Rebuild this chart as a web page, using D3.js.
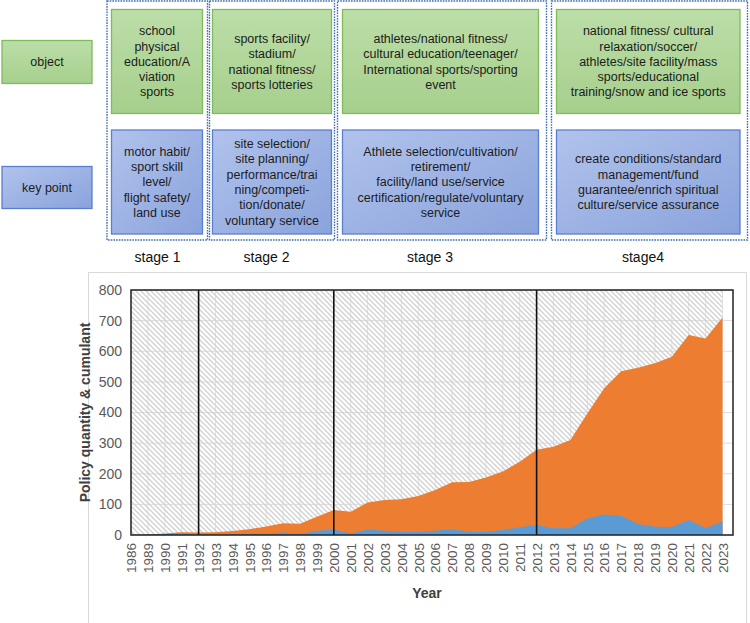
<!DOCTYPE html>
<html>
<head>
<meta charset="utf-8">
<script src="https://cdn.jsdelivr.net/npm/d3@7"></script>
<style>
  html, body { margin: 0; padding: 0; background: #fff; }
  svg { display: block; font-family: Arial, "Liberation Sans", sans-serif; }
</style>
</head>
<body>
<svg id="chart" width="750" height="623"></svg>
<script>
// ---------------- data ----------------
const years = ["1986","1989","1990","1991","1992","1993","1994","1995","1996","1997","1998","1999",
  "2000","2001","2002","2003","2004","2005","2006","2007","2008","2009","2010","2011",
  "2012","2013","2014","2015","2016","2017","2018","2019","2020","2021","2022","2023"];
const cumulant = [1,2,5,9,8, 9,13,19,28,38, 37,60,82,76,106, 114,117,127,147,172,
  173,188,207,239,278, 288,310,397,479,535, 546,561,582,653,642, 710];
const quantity = [1,1,3,4,1, 1,2,4,5,8, 3,14,18,5,18, 14,11,11,14,19,
  11,11,16,25,33, 22,22,54,67,63, 36,27,26,49,22, 44];
const background = years.map(() => 800);
const stageYears = ["1992","2000","2012"];
const yTicks = [0,100,200,300,400,500,600,700,800];

const rowLabels = ["object","key point"];
const stageLabels = ["stage 1","stage 2","stage 3","stage4"];
const objectTexts = [
  ["school","physical","education/A","viation","sports"],
  ["sports facility/","stadium/","national fitness/","sports lotteries"],
  ["athletes/national fitness/","cultural education/teenager/","International sports/sporting","event"],
  ["national fitness/ cultural","relaxation/soccer/","athletes/site facility/mass","sports/educational","training/snow and ice sports"]
];
const keyTexts = [
  ["motor habit/","sport skill","level/","flight safety/","land use"],
  ["site selection/","site planning/","performance/trai","ning/competi-","tion/donate/","voluntary service"],
  ["Athlete selection/cultivation/","retirement/","facility/land use/service","certification/regulate/voluntary","service"],
  ["create conditions/standard","management/fund","guarantee/enrich spiritual","culture/service assurance"]
];

// ---------------- layout ----------------
const svg = d3.select("#chart");
const defs = svg.append("defs");

const gGreen = defs.append("linearGradient").attr("id","gGreen").attr("x1",0).attr("y1",0).attr("x2",0).attr("y2",1);
gGreen.append("stop").attr("offset","0%").attr("stop-color","#bcdea8");
gGreen.append("stop").attr("offset","100%").attr("stop-color","#a6cf8c");
const gBlue = defs.append("linearGradient").attr("id","gBlue").attr("x1",0).attr("y1",0).attr("x2",1).attr("y2",1);
gBlue.append("stop").attr("offset","0%").attr("stop-color","#b1c3ec");
gBlue.append("stop").attr("offset","100%").attr("stop-color","#8aa3dc");

const hatch = defs.append("pattern").attr("id","hatch").attr("patternUnits","userSpaceOnUse")
  .attr("width",5).attr("height",5);
hatch.append("path").attr("d","M-1,-1 L6,6 M-1,4 L1,6 M4,-1 L6,1")
  .attr("stroke","#d2d2d2").attr("stroke-width",1.4).attr("fill","none");

// ---------- top diagram ----------
const stageCols = [
  {x0:107, x1:207.5, ix0:111.5, ix1:202.5},
  {x0:209.5, x1:334.5, ix0:212.5, ix1:331.5},
  {x0:337.5, x1:546.5, ix0:342.5, ix1:538.5},
  {x0:551.5, x1:747.5, ix0:556.5, ix1:740}
];
const greenY = [9.5, 113.5], blueY = [130, 234];
const lineH = 15.3;
const topG = svg.append("g");

function box(x0, y0, x1, y1, kind) {
  topG.append("rect").attr("x",x0).attr("y",y0).attr("width",x1-x0).attr("height",y1-y0)
    .attr("fill", kind === "g" ? "url(#gGreen)" : "url(#gBlue)")
    .attr("stroke", kind === "g" ? "#7fba5c" : "#5a7fcf").attr("stroke-width",1.3);
}
function lines(cx, cy, arr, size) {
  const n = arr.length;
  arr.forEach((t, i) => {
    topG.append("text").attr("x",cx).attr("y", cy + (i - (n-1)/2) * lineH)
      .attr("dy","0.35em").attr("text-anchor","middle")
      .attr("font-size",size).attr("fill","#1c1c1c").text(t);
  });
}

// left row labels
box(2, 40.5, 92, 83.5, "g");
lines(47, 62, [rowLabels[0]], 12.5);
box(2, 166.5, 92, 208.5, "b");
lines(47, 187.5, [rowLabels[1]], 12.5);

stageCols.forEach((c, i) => {
  topG.append("rect").attr("x",c.x0).attr("y",1).attr("width",c.x1-c.x0).attr("height",239)
    .attr("fill","none").attr("stroke","#3f6fa8").attr("stroke-width",1.4)
    .attr("stroke-dasharray","1.6,1.1");
  box(c.ix0, greenY[0], c.ix1, greenY[1], "g");
  box(c.ix0, blueY[0], c.ix1, blueY[1], "b");
  const cx = (c.ix0 + c.ix1) / 2;
  lines(cx, (greenY[0]+greenY[1])/2, objectTexts[i], 12.5);
  lines(cx, (blueY[0]+blueY[1])/2, keyTexts[i], 12.5);
});
const stageCx = [157.5, 266.5, 430, 643];
stageLabels.forEach((s, i) => {
  topG.append("text").attr("x",stageCx[i]).attr("y",261.5).attr("text-anchor","middle")
    .attr("font-size",14).attr("fill","#111").text(s);
});

// ---------- chart ----------
svg.append("rect").attr("x",88.5).attr("y",272.5).attr("width",658).attr("height",360)
  .attr("fill","#fff").attr("stroke","#d9d9d9").attr("stroke-width",1);

const plot = {left:131, top:290, right:733, bottom:535};
const x = d3.scalePoint().domain(years).range([plot.left, 722.5]);
const y = d3.scaleLinear().domain([0,800]).range([plot.bottom, plot.top]);

const g = svg.append("g");

// gridlines
g.append("g").selectAll("line.h").data(yTicks).join("line")
  .attr("x1",plot.left).attr("x2",plot.right).attr("y1",d=>y(d)).attr("y2",d=>y(d))
  .attr("stroke","#dcdcdc").attr("stroke-width",1);
g.append("g").selectAll("line.v").data(years).join("line")
  .attr("x1",d=>x(d)).attr("x2",d=>x(d)).attr("y1",plot.top).attr("y2",plot.bottom)
  .attr("stroke","#e2e2e2").attr("stroke-width",1);

const area = vals => d3.area().x((d,i)=>x(years[i])).y0(y(0)).y1(d=>y(d))(vals);

g.append("path").attr("d",area(background)).attr("fill","url(#hatch)");
g.append("path").attr("d",area(cumulant)).attr("fill","#ed7d31");
g.append("path").attr("d",area(quantity)).attr("fill","#5b9bd5");

// stage boundaries
g.append("g").selectAll("line").data(stageYears).join("line")
  .attr("x1",d=>x(d)).attr("x2",d=>x(d)).attr("y1",plot.top).attr("y2",plot.bottom)
  .attr("stroke","#111").attr("stroke-width",1.6);

// plot border
g.append("rect").attr("x",plot.left).attr("y",plot.top)
  .attr("width",plot.right-plot.left).attr("height",plot.bottom-plot.top)
  .attr("fill","none").attr("stroke","#222").attr("stroke-width",1.5);

// y axis
const yAxis = d3.axisLeft(y).tickValues(yTicks).tickSize(0).tickPadding(9);
const ya = g.append("g").attr("transform",`translate(${plot.left},0)`).call(yAxis);
ya.select(".domain").remove();
ya.selectAll("text").attr("font-size",14).attr("fill","#595959")
  .attr("font-family","Arial, 'Liberation Sans', sans-serif");

// x axis
const xAxis = d3.axisBottom(x).tickSize(0).tickPadding(0);
const xa = g.append("g").attr("transform",`translate(0,${plot.bottom})`).call(xAxis);
xa.select(".domain").remove();
xa.selectAll("text")
  .attr("font-size",13.5).attr("fill","#595959")
  .attr("font-family","Arial, 'Liberation Sans', sans-serif")
  .attr("text-anchor","end")
  .attr("transform","translate(0,8) rotate(-90)")
  .attr("x",0).attr("y",0).attr("dy","0.35em");

// axis titles
svg.append("text").attr("transform",`translate(90,${(plot.top+plot.bottom)/2}) rotate(-90)`)
  .attr("text-anchor","middle").attr("font-size",14).attr("font-weight","bold")
  .attr("fill","#404040").text("Policy quantity & cumulant");
svg.append("text").attr("x",427).attr("y",598).attr("text-anchor","middle")
  .attr("font-size",14).attr("font-weight","bold").attr("fill","#404040").text("Year");
</script>
</body>
</html>
